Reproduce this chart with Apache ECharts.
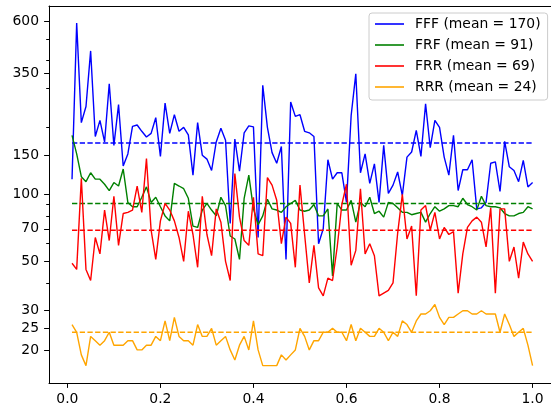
<!DOCTYPE html>
<html><head><meta charset="utf-8">
<script src="https://cdn.jsdelivr.net/npm/echarts@6/dist/echarts.min.js"></script>
<style>html,body{margin:0;padding:0;background:#fff}#c{width:551px;height:414px}</style>
</head><body><div id="c"></div>
<script>
const xValues = [0.01,0.02,0.03,0.04,0.05,0.06,0.07,0.08,0.09,0.10,
0.11,0.12,0.13,0.14,0.15,0.16,0.17,0.18,0.19,0.20,
0.21,0.22,0.23,0.24,0.25,0.26,0.27,0.28,0.29,0.30,
0.31,0.32,0.33,0.34,0.35,0.36,0.37,0.38,0.39,0.40,
0.41,0.42,0.43,0.44,0.45,0.46,0.47,0.48,0.49,0.50,
0.51,0.52,0.53,0.54,0.55,0.56,0.57,0.58,0.59,0.60,
0.61,0.62,0.63,0.64,0.65,0.66,0.67,0.68,0.69,0.70,
0.71,0.72,0.73,0.74,0.75,0.76,0.77,0.78,0.79,0.80,
0.81,0.82,0.83,0.84,0.85,0.86,0.87,0.88,0.89,0.90,
0.91,0.92,0.93,0.94,0.95,0.96,0.97,0.98,0.99,1.00];

const FFF = [117,588,210,248,441,182,215,172,314,166, 253,134,152,202,205,192,181,188,221,148,
257,188,228,192,200,185,122,210,150,144, 128,172,198,175,74,177,127,189,203,201,
64,309,200,154,138,164,51,260,224,228, 192,189,182,60,70,143,117,125,125,92,
226,348,125,152,112,137,92,166,101,110, 126,99,147,155,194,148,255,162,215,200,
147,122,184,104,129,129,143,86,87,92, 138,140,103,173,133,128,114,142,108,113];

const FRF = [184,152,120,114,125,117,117,111,104,113, 109,130,92,88,88,97,108,92,97,88,
80,76,112,109,106,96,72,71,85,91, 85,80,97,89,65,63,51,96,122,86,
73,80,95,86,85,83,88,91,94,85, 84,85,90,80,80,86,43,91,85,85,
94,75,92,88,97,82,84,79,92,91, 87,83,83,81,82,83,75,82,88,84,
86,89,89,88,96,90,88,85,98,89, 88,88,87,82,80,80,82,83,88,86];

const FRR = [49,46,118,46,41,64,54,85,62,98, 59,82,83,85,109,83,145,69,51,76,
91,85,76,64,50,84,66,47,98,66, 53,86,75,50,41,124,79,62,59,97,
54,53,119,110,94,60,79,74,47,110, 66,40,59,38,35,42,41,58,90,111,
48,56,106,54,60,53,35,36,37,40, 67,100,63,72,35,85,89,69,83,63,
71,66,68,36,54,71,76,79,75,58, 87,36,86,86,50,58,42,61,54,50];

const RRR = [26,24,19,17,23,22,21,22,24,21, 21,21,22,22,20,20,21,21,23,22,
27,22,28,23,22,22,21,26,23,23, 25,21,22,23,20,18,21,23,20,27,
20,17,17,17,17,19,18,19,20,25, 23,20,22,22,24,24,25,24,24,22,
26,22,25,24,23,23,25,24,22,24, 23,27,26,24,27,29,29,30,32,28,
26,28,28,29,30,30,29,29,30,29, 29,29,24,29,26,23,24,25,21,17];

const seriesNames = ['FFF', 'FRF', 'FRR', 'RRR'];
const meanValues = [170, 91, 69, 24];
const seriesColors = ['#0000ff', '#008000', '#ff0000', '#ffa500'];
const seriesValues = [FFF, FRF, FRR, RRR];

const yTickLabels = [20, 25, 30, 50, 70, 100, 150, 350, 600];
const yMinorTicks = [20, 30, 40, 50, 60, 70, 80, 90, 200, 300, 400, 500, 600];
const xTickLabels = [0, 0.2, 0.4, 0.6, 0.8, 1.0];

const FONT = 'DejaVu Sans';
const chart = echarts.init(document.getElementById('c'), null, {renderer: 'canvas'});

const series = [];
seriesNames.forEach((n, k) => {
  const label = n + ' (mean = ' + meanValues[k] + ')';
  series.push({
    name: label, type: 'line', showSymbol: false, symbol: 'none',
    data: xValues.map((x, i) => [x, seriesValues[k][i]]),
    color: seriesColors[k],
    itemStyle: {color: seriesColors[k]},
    lineStyle: {color: seriesColors[k], width: 1.4},
    z: 3 + k * 2, silent: true, animation: false
  });
  series.push({
    name: n + '_mean', type: 'line', showSymbol: false, symbol: 'none',
    data: [[xValues[0], meanValues[k]], [xValues[xValues.length - 1], meanValues[k]]],
    lineStyle: {color: seriesColors[k], width: 1.4, type: [5.3, 2.4]},
    z: 4 + k * 2, silent: true, animation: false
  });
});

const XMIN = -0.0395, XMAX = 1.0396;
const option = {
  animation: false,
  backgroundColor: '#ffffff',
  grid: {left: 49, top: 6, width: 502, height: 377, show: false, containLabel: false},
  legend: {
    left: 369, top: 13, orient: 'vertical',
    data: seriesNames.map((n, k) => ({name: n + ' (mean = ' + meanValues[k] + ')', icon: 'rect'})),
    itemWidth: 29, itemHeight: 1.6, itemGap: 7,
    padding: [4, 7, 6, 6],
    backgroundColor: 'rgba(255,255,255,0.8)',
    borderColor: '#cccccc', borderWidth: 1, borderRadius: 3,
    selectedMode: false,
    textStyle: {fontFamily: FONT, fontSize: 13.9, color: '#000', lineHeight: 14, padding: [0, 0, 0, 6]}
  },
  xAxis: [{
    type: 'value', min: XMIN, max: XMAX, position: 'bottom',
    axisLine: {show: true, onZero: false, lineStyle: {color: '#000', width: 1}},
    axisTick: {show: true, length: 4.9, lineStyle: {color: '#000', width: 1}, customValues: xTickLabels},
    axisLabel: {show: true, margin: 9, fontFamily: FONT, fontSize: 13.9, color: '#000',
      customValues: xTickLabels, formatter: v => Number(v).toFixed(1)},
    splitLine: {show: false}
  }, {
    type: 'value', min: XMIN, max: XMAX, position: 'top',
    axisLine: {show: true, onZero: false, lineStyle: {color: '#000', width: 1}},
    axisTick: {show: false}, axisLabel: {show: false}, splitLine: {show: false}
  }],
  yAxis: [{
    type: 'log', logBase: 10, min: 14.2, max: 702, position: 'left',
    axisLine: {show: true, onZero: false, lineStyle: {color: '#000', width: 1}},
    axisTick: {show: true, length: 4.9, lineStyle: {color: '#000', width: 1}, customValues: yTickLabels},
    axisLabel: {show: true, margin: 10, fontFamily: FONT, fontSize: 13.9, color: '#000',
      customValues: yTickLabels, formatter: v => String(Math.round(v))},
    splitLine: {show: false}, minorTick: {show: false}
  }, {
    type: 'log', logBase: 10, min: 14.2, max: 702, position: 'left',
    axisLine: {show: false, onZero: false},
    axisTick: {show: true, length: 2.8, lineStyle: {color: '#000', width: 1}, customValues: yMinorTicks},
    axisLabel: {show: false},
    splitLine: {show: false}
  }],
  series: series
};
chart.setOption(option);
</script>
</body></html>
